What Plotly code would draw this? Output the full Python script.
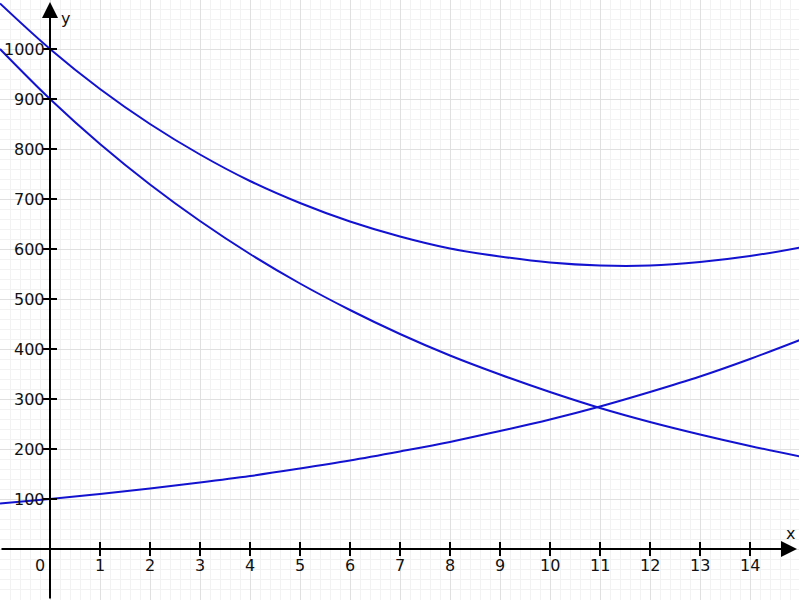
import plotly.graph_objects as go

# --- data ---
x_vals = list(range(-1, 16))
growth = [91, 100, 110, 121, 133, 146, 161, 177, 195, 214, 236, 259, 285, 314, 345, 380, 418]
decay = [1000, 900, 810, 729, 656, 590, 531, 478, 430, 387, 349, 314, 282, 254, 229, 206, 185]
total = [1091, 1000, 920, 850, 789, 736, 692, 655, 625, 601, 585, 573, 567, 567, 574, 586, 603]

x_ticks = list(range(1, 15))
x_tick_labels = [str(v) for v in x_ticks]
y_ticks = list(range(100, 1001, 100))
y_tick_labels = [str(v) for v in y_ticks]

X_RANGE = [-1, 14.98]
Y_RANGE = [-102, 1098]
CURVE = "#1212d0"
FONT = dict(family="DejaVu Sans, Verdana, sans-serif", size=16, color="#111111")

fig = go.Figure()
for ys in (growth, decay, total):
    fig.add_trace(go.Scatter(x=x_vals, y=ys, mode="lines",
                             line=dict(color=CURVE, width=2, shape="spline", smoothing=1.0),
                             hoverinfo="skip", showlegend=False))

# tick marks on the axes
fig.add_trace(go.Scatter(x=x_ticks, y=[0] * len(x_ticks), mode="markers",
                         marker=dict(symbol="line-ns", size=10, line=dict(color="black", width=2)),
                         hoverinfo="skip", showlegend=False))
fig.add_trace(go.Scatter(x=[0] * len(y_ticks), y=y_ticks, mode="markers",
                         marker=dict(symbol="line-ew", size=10, line=dict(color="black", width=2)),
                         hoverinfo="skip", showlegend=False))

annotations = []
# axes with arrows
annotations.append(dict(x=0, y=1094, ax=0, ay=Y_RANGE[0], xref="x", yref="y",
                        axref="x", ayref="y", showarrow=True, arrowhead=2, arrowsize=1.6,
                        arrowwidth=2, arrowcolor="black", text="", standoff=0, startstandoff=0))
annotations.append(dict(x=14.94, y=0, ax=X_RANGE[0], ay=0, xref="x", yref="y",
                        axref="x", ayref="y", showarrow=True, arrowhead=2, arrowsize=1.6,
                        arrowwidth=2, arrowcolor="black", text="", standoff=0, startstandoff=0))
# tick labels
for xv, lab in zip(x_ticks, x_tick_labels):
    annotations.append(dict(x=xv, y=-32, text=lab, showarrow=False, font=FONT,
                            xanchor="center", yanchor="middle"))
for yv, lab in zip(y_ticks, y_tick_labels):
    annotations.append(dict(x=-0.06, y=yv, text=lab, showarrow=False, font=FONT,
                            xanchor="right", yanchor="middle"))
annotations.append(dict(x=-0.2, y=-32, text="0", showarrow=False, font=FONT,
                        xanchor="center", yanchor="middle"))
annotations.append(dict(x=0.3, y=1062, text="y", showarrow=False, font=FONT,
                        xanchor="center", yanchor="middle"))
annotations.append(dict(x=14.8, y=32, text="x", showarrow=False, font=FONT,
                        xanchor="center", yanchor="middle"))

axis_common = dict(showticklabels=False, ticks="", zeroline=False, showline=False,
                   showgrid=True, gridcolor="#e0e0e0", gridwidth=1)
fig.update_layout(
    width=799, height=600,
    margin=dict(l=0, r=0, t=0, b=0),
    plot_bgcolor="white", paper_bgcolor="white",
    xaxis=dict(range=X_RANGE, dtick=1, tick0=0,
               minor=dict(dtick=0.2, showgrid=True, gridcolor="#f2f2f2", gridwidth=1),
               **axis_common),
    yaxis=dict(range=Y_RANGE, dtick=100, tick0=0,
               minor=dict(dtick=20, showgrid=True, gridcolor="#f2f2f2", gridwidth=1),
               **axis_common),
    annotations=annotations,
    showlegend=False,
)

fig.write_html("out.html", config={"displayModeBar": False},
               post_script="document.body.style.margin='0';document.body.style.overflow='hidden';")
